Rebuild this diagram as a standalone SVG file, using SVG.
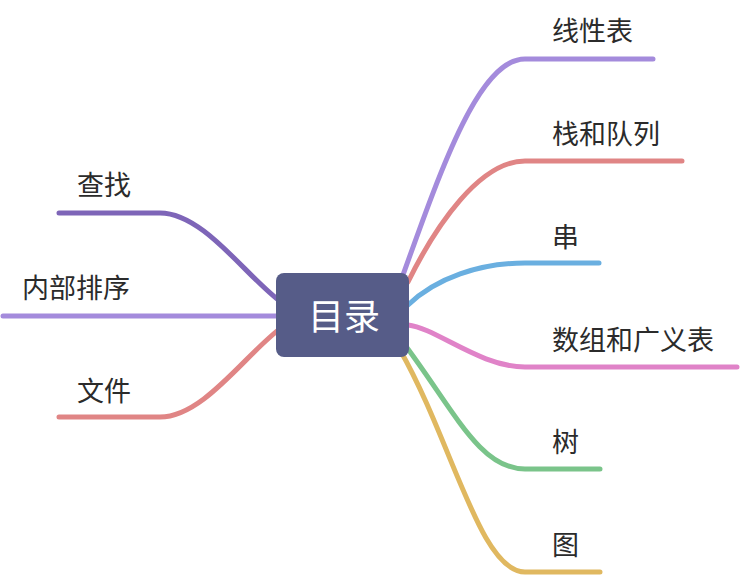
<svg xmlns="http://www.w3.org/2000/svg" width="740" height="576" viewBox="0 0 740 576">
<style>
.c{fill:none;stroke-width:5;stroke-linecap:round;stroke-linejoin:round}
.t{font-family:"Noto Sans CJK SC","Noto Sans",sans-serif;font-size:27px;fill:#2b2b2b}
.root{font-family:"Noto Sans CJK SC","Noto Sans",sans-serif;font-size:36px;fill:#ffffff}
</style>
<rect width="740" height="576" fill="#ffffff"/>
<g id="connectors">
<path class="c" stroke="#a48bdc" d="M403 275 C443 163 480 59 525 59 L653 59"/>
<path class="c" stroke="#e08585" d="M408 282 C436 225 480 161 525 161 L682 161"/>
<path class="c" stroke="#6aafe0" d="M408 305 C436 278 480 263 525 263 L599 263"/>
<path class="c" stroke="#e083c8" d="M408 325 C436 328 480 367 525 367 L737 367"/>
<path class="c" stroke="#7ac48a" d="M405 345 C455 412 480 469 525 469 L600 469"/>
<path class="c" stroke="#e0b860" d="M400 350 C452 441 480 572 525 572 L600 572"/>
<path class="c" stroke="#7e65b8" d="M285 305 C249 281 205 213 160 213 L59 213"/>
<path class="c" stroke="#a48bdc" d="M290 316 L3 316"/>
<path class="c" stroke="#e08585" d="M285 325 C249 349 205 417 160 417 L59 417"/>
</g>
<g id="root">
<rect x="276" y="273" width="133" height="84" rx="8" fill="#565c88"/>
<text class="root" x="344" y="330" text-anchor="middle">目录</text>
</g>
<g id="n1"><text class="t" x="552" y="41">线性表</text></g>
<g id="n2"><text class="t" x="552" y="144">栈和队列</text></g>
<g id="n3"><text class="t" x="552" y="247">串</text></g>
<g id="n4"><text class="t" x="552" y="350">数组和广义表</text></g>
<g id="n5"><text class="t" x="552" y="452">树</text></g>
<g id="n6"><text class="t" x="552" y="555">图</text></g>
<g id="l1"><text class="t" x="77" y="195">查找</text></g>
<g id="l2"><text class="t" x="22" y="298">内部排序</text></g>
<g id="l3"><text class="t" x="77" y="401">文件</text></g>
</svg>
